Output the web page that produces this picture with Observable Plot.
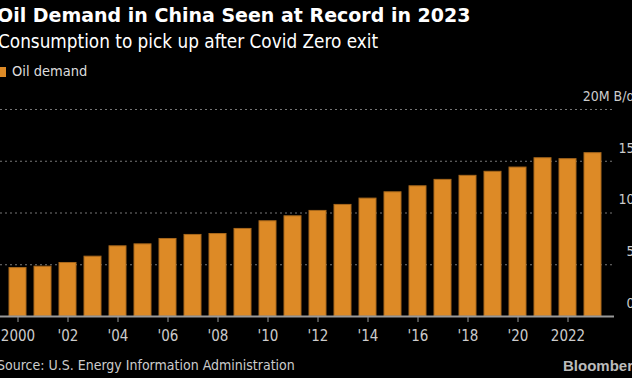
<!DOCTYPE html>
<html><head><meta charset="utf-8">
<script src="https://cdn.jsdelivr.net/npm/d3@7"></script>
<script src="https://cdn.jsdelivr.net/npm/@observablehq/plot@0.6"></script>
<style>
html,body{margin:0;padding:0;background:#000;overflow:hidden;width:632px;height:378px;}
#wrap{position:relative;width:632px;height:378px;overflow:hidden;font-family:"DejaVu Sans",sans-serif;font-stretch:condensed;}
.t{position:absolute;white-space:nowrap;}
#title{left:-3px;top:4px;font-weight:bold;font-size:19px;font-stretch:normal;color:#fff;}
#sub{left:-2px;top:31px;font-size:18.8px;color:#fff;}
#leg{left:-1px;top:63px;font-size:14.5px;color:#ddd;}
#leg span.sw{display:inline-block;width:7px;height:10px;background:#dd8a26;margin-right:6px;vertical-align:-1px;}
#chart{position:absolute;left:0;top:85px;width:660px;}
#chart svg{max-width:none;}
#src{left:-3px;top:357px;font-size:14px;color:#ccc;}
#bb{left:563px;top:357px;font:bold 15px "Liberation Sans","DejaVu Sans",sans-serif;color:#bbb;font-stretch:normal;}
</style></head>
<body><div id="wrap">
<div class="t" id="title">Oil Demand in China Seen at Record in 2023</div>
<div class="t" id="sub">Consumption to pick up after Covid Zero exit</div>
<div class="t" id="leg"><span class="sw"></span>Oil demand</div>
<div id="chart"></div>
<div class="t" id="src">Source: U.S. Energy Information Administration</div>
<div class="t" id="bb">Bloomberg</div>
</div>
<script>
const years = [2000,2001,2002,2003,2004,2005,2006,2007,2008,2009,2010,2011,2012,2013,2014,2015,2016,2017,2018,2019,2020,2021,2022,2023];
const demand = [4.68,4.81,5.17,5.78,6.78,6.97,7.49,7.88,7.97,8.46,9.20,9.68,10.20,10.78,11.39,12.00,12.58,13.20,13.59,13.98,14.39,15.29,15.20,15.78];
const yTicks = [0,5,10,15,20];
const xTicks = [2000,2002,2004,2006,2008,2010,2012,2014,2016,2018,2020,2022];
const xLabels = ["2000","'02","'04","'06","'08","'10","'12","'14","'16","'18","'20","2022"];

const data = years.map((y,i)=>({year:y, value:demand[i]}));
const fmtX = d => xLabels[xTicks.indexOf(d)];
const fmtY = d => d === 20 ? "20M B/d" : String(d);

const plot = Plot.plot({
  width: 660, height: 265,
  marginLeft: 0, marginRight: 46, marginTop: 24, marginBottom: 34,
  style: {background:"#000", color:"#ccc", fontSize:"15px", fontFamily:'"DejaVu Sans",sans-serif', fontStretch:"condensed", maxWidth:"none"},
  x: {type:"band", domain: years, range:[1,609], paddingInner:0.315, paddingOuter:0},
  y: {domain:[0,20]},
  marks: [
    Plot.ruleY(yTicks.filter(d=>d>0), {stroke:"#777", strokeDasharray:"2,3", strokeWidth:1}),
    Plot.barY(data, {x:"year", y:"value", fill:"#dd8a26", stroke:"#a8681c", strokeWidth:1}),
    Plot.ruleY([0], {stroke:"#999", strokeWidth:2}),
    Plot.axisY(yTicks, {anchor:"right", tickSize:0, tickPadding:20, textAnchor:"end", dy:-13, tickFormat:fmtY, fill:"#ccc", fontSize:14, fontStretch:"normal", label:null}),
    Plot.axisX(xTicks, {tickSize:6, tickPadding:8, stroke:"#999", tickFormat:fmtX, fill:"#ccc", label:null})
  ]
});
document.getElementById("chart").appendChild(plot);
</script>
</body></html>
